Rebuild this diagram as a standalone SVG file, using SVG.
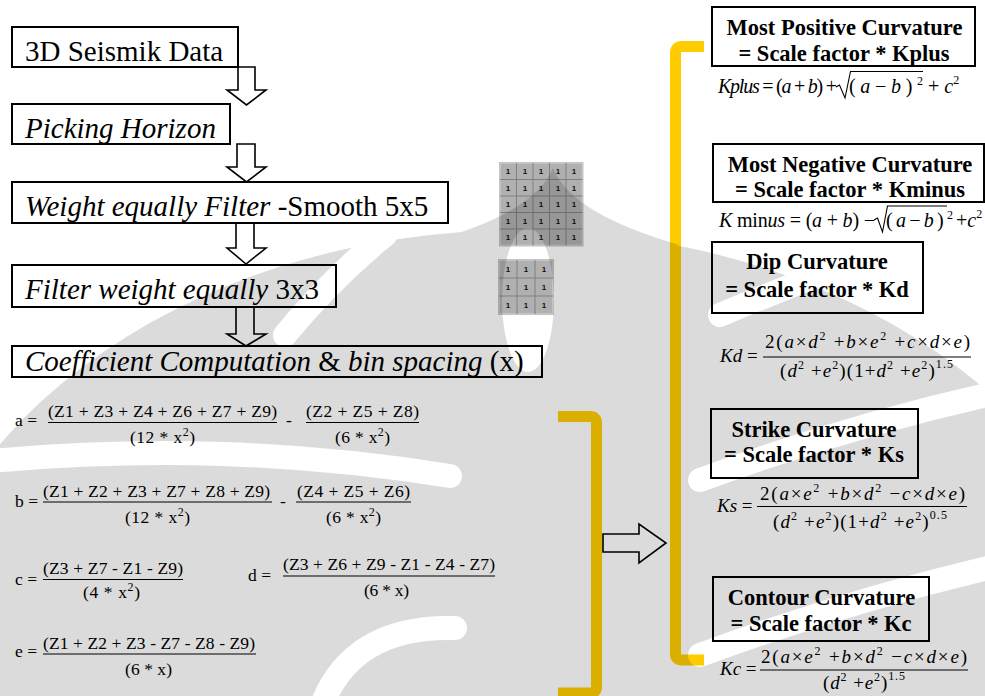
<svg xmlns="http://www.w3.org/2000/svg" width="985" height="696" viewBox="0 0 985 696" font-family="'Liberation Serif', 'Times New Roman', Times, serif">
<style>
.box{fill:#fff;stroke:#000;stroke-width:2}
.t{font-family:'Liberation Serif','Times New Roman',Times,serif;fill:#000}
.lt{font-size:29px}
.i{font-style:italic}
.bt{font-size:22.5px;font-weight:bold;text-anchor:middle}
.eq{font-size:17.5px}
.fm{font-size:19px}
.kf{font-size:20px}
.sup{font-size:12px}
.bar{stroke:#000;stroke-width:1.1;fill:none}
.arr{fill:#fff;stroke:#000;stroke-width:1.6;stroke-linejoin:miter}
.yb{fill:none;stroke:#FFCC00;stroke-width:11;stroke-linejoin:round}
.grid{fill:#b0b0b0;stroke:#c4c4c4;stroke-width:2}
.gl{fill:none;stroke:#808080;stroke-width:1}
.one{font-family:'Liberation Sans',Arial,sans-serif;font-size:8px;font-weight:bold;fill:#111;text-anchor:middle}
</style>
<defs>
<mask id="wmask" maskUnits="userSpaceOnUse" x="0" y="0" width="985" height="696">
<rect x="0" y="0" width="985" height="696" fill="#000"/>
<ellipse cx="520" cy="700" rx="620" ry="470" fill="#fff"/>
<path d="M553,168 C566,200 610,225 680,245 L420,245 C495,225 540,200 553,168 Z" fill="#fff"/>
<g fill="none" stroke="#000" stroke-width="24" stroke-linecap="round">
<ellipse cx="528" cy="300" rx="26" ry="72" fill="#000" stroke="none"/>
<path d="M-20,462 C150,446 300,452 450,476"/>
<path d="M320,710 Q350,625 455,628"/>
<path d="M285,335 Q330,280 385,235"/>
<path d="M700,480 Q850,425 1000,392"/>
<path d="M700,655 Q850,600 1000,565"/>
<path d="M720,315 Q860,255 1000,215"/>
</g>
</mask>
</defs>

<g id="connectors">
<path class="arr" d="M238,67 L255,67 L255,90 L266,90 L246.5,105 L227,90 L238,90 Z"/>
<path class="arr" d="M237,144 L255,144 L255,167 L266,167 L246.5,182 L227,167 L237,167 Z"/>
<path class="arr" d="M236,223 L254,223 L254,248 L266,248 L246,264 L227,248 L236,248 Z"/>
<path class="arr" d="M236,307 L254,307 L254,334 L266,334 L246,346 L227,334 L236,334 Z"/>
<path class="arr" d="M603,534 L639,534 L639,524 L666,543 L639,563 L639,552 L603,552 Z"/>
<path class="yb" d="M704,46.5 L682,46.5 Q675.5,46.5 675.5,53 L675.5,654 Q675.5,660 682,660 L704,660"/>
<path class="yb" d="M558,416.5 L590,416.5 Q596.5,416.5 596.5,423 L596.5,687 Q596.5,693 590,693 L558,693"/>
</g>

<g id="n-seismic">
<rect class="box" x="12" y="27" width="226" height="40"/>
<text class="t lt" x="25" y="61">3D Seismik Data</text>
</g>
<g id="n-picking">
<rect class="box" x="12" y="104" width="218" height="40"/>
<text class="t lt i" x="25" y="138">Picking Horizon</text>
</g>
<g id="n-smooth">
<rect class="box" x="12" y="182" width="436" height="41"/>
<text class="t lt" x="25" y="216"><tspan class="i">Weight equally Filter</tspan> -Smooth 5x5</text>
</g>
<g id="n-filter">
<rect class="box" x="12" y="265" width="324" height="42"/>
<text class="t lt" x="25" y="299"><tspan class="i">Filter weight equally</tspan> 3x3</text>
</g>
<g id="n-coef">
<rect class="box" x="12" y="346" width="530" height="31"/>
<text class="t lt" x="25" y="371"><tspan class="i">Coefficient Computation</tspan> &amp; <tspan class="i">bin spacing</tspan> (x)</text>
</g>

<g id="grid5">
<rect class="grid" x="500" y="163" width="82.5" height="82.5"/>
<path class="gl" d="M516.5,163V245.5M533,163V245.5M549.5,163V245.5M566,163V245.5M500,179.5H582.5M500,196H582.5M500,212.5H582.5M500,229H582.5"/>
<text class="one" x="508 525 541 558 574" y="174">11111</text>
<text class="one" x="508 525 541 558 574" y="191">11111</text>
<text class="one" x="508 525 541 558 574" y="207">11111</text>
<text class="one" x="508 525 541 558 574" y="224">11111</text>
<text class="one" x="508 525 541 558 574" y="240">11111</text>
</g>
<g id="grid3">
<rect class="grid" x="499" y="260" width="54" height="54"/>
<path class="gl" d="M517,260V314M535,260V314M499,278H553M499,296H553"/>
<text class="one" x="508 526 544" y="272">111</text>
<text class="one" x="508 526 544" y="290">111</text>
<text class="one" x="508 526 544" y="308">111</text>
</g>

<g id="eq-a">
<text class="t eq" x="15" y="426">a =</text>
<text class="t eq" x="48" y="417" textLength="229">(Z1 + Z3 + Z4 + Z6 + Z7 + Z9)</text>
<line class="bar" x1="48" y1="422.5" x2="277" y2="422.5"/>
<text class="t eq" x="130" y="443" textLength="65">(12 * x<tspan class="sup" dy="-7">2</tspan><tspan dy="7">)</tspan></text>
<text class="t eq" x="289" y="426" text-anchor="middle">-</text>
<text class="t eq" x="306" y="417" textLength="113">(Z2 + Z5 + Z8)</text>
<line class="bar" x1="306" y1="422.5" x2="419" y2="422.5"/>
<text class="t eq" x="335" y="443" textLength="55">(6 * x<tspan class="sup" dy="-7">2</tspan><tspan dy="7">)</tspan></text>
</g>
<g id="eq-b">
<text class="t eq" x="15" y="507">b =</text>
<text class="t eq" x="43" y="497" textLength="227">(Z1 + Z2 + Z3 + Z7 + Z8 + Z9)</text>
<line class="bar" x1="43" y1="502" x2="272" y2="502"/>
<text class="t eq" x="125" y="523" textLength="65">(12 * x<tspan class="sup" dy="-7">2</tspan><tspan dy="7">)</tspan></text>
<text class="t eq" x="283" y="507" text-anchor="middle">-</text>
<text class="t eq" x="297" y="497" textLength="113">(Z4 + Z5 + Z6)</text>
<line class="bar" x1="296" y1="502" x2="411" y2="502"/>
<text class="t eq" x="326" y="523" textLength="55">(6 * x<tspan class="sup" dy="-7">2</tspan><tspan dy="7">)</tspan></text>
</g>
<g id="eq-c">
<text class="t eq" x="15" y="585">c =</text>
<text class="t eq" x="43" y="573.5" textLength="140">(Z3 + Z7 - Z1 - Z9)</text>
<line class="bar" x1="43" y1="579.5" x2="183" y2="579.5"/>
<text class="t eq" x="83" y="597.5" textLength="57">(4 * x<tspan class="sup" dy="-7">2</tspan><tspan dy="7">)</tspan></text>
</g>
<g id="eq-d">
<text class="t eq" x="248" y="581">d =</text>
<text class="t eq" x="283" y="570" textLength="212">(Z3 + Z6 + Z9 - Z1 - Z4 - Z7)</text>
<line class="bar" x1="283" y1="576" x2="495" y2="576"/>
<text class="t eq" x="364" y="596" textLength="45">(6 * x)</text>
</g>
<g id="eq-e">
<text class="t eq" x="15" y="657">e =</text>
<text class="t eq" x="43" y="648.5" textLength="212">(Z1 + Z2 + Z3 - Z7 - Z8 - Z9)</text>
<line class="bar" x1="43" y1="654" x2="256" y2="654"/>
<text class="t eq" x="125" y="675" textLength="47">(6 * x)</text>
</g>

<g id="n-kplus">
<rect class="box" x="712" y="7" width="263" height="59"/>
<text class="t bt" x="844.5" y="35">Most Positive Curvature</text>
<text class="t bt" x="844" y="61">= Scale factor * Kplus</text>
<text class="t kf" x="718" y="93" textLength="119"><tspan class="i">Kplus</tspan> = (<tspan class="i">a</tspan> + <tspan class="i">b</tspan>) +</text>
<path class="bar" d="M836,87 L839.5,85 L845,98 L850.5,71.5 L923,71.5"/>
<text class="t kf" x="849" y="93" textLength="74">(<tspan class="i">a</tspan>−<tspan class="i">b</tspan>)<tspan class="sup" dy="-8">2</tspan></text>
<text class="t kf" x="928" y="93">+ <tspan class="i">c</tspan><tspan class="sup" dy="-9">2</tspan></text>
</g>

<g id="n-kminus">
<rect class="box" x="713" y="144" width="271" height="58"/>
<text class="t bt" x="850" y="171.5">Most Negative Curvature</text>
<text class="t bt" x="850" y="196.5">= Scale factor * Kminus</text>
<text class="t kf" x="719" y="226.5" textLength="156"><tspan class="i">K</tspan> min<tspan class="i">us</tspan> = (<tspan class="i">a</tspan> + <tspan class="i">b</tspan>) −</text>
<path class="bar" d="M874,220 L877.5,218 L882.5,232 L887.5,206 L947,206"/>
<text class="t kf" x="886" y="226.5" textLength="67">(<tspan class="i">a</tspan>−<tspan class="i">b</tspan>)<tspan class="sup" dy="-8">2</tspan></text>
<text class="t kf" x="956" y="226.5">+<tspan class="i">c</tspan><tspan class="sup" dy="-9">2</tspan></text>
</g>

<g id="n-kd">
<rect class="box" x="712" y="242" width="211" height="71"/>
<text class="t bt" x="817" y="269">Dip Curvature</text>
<text class="t bt" x="817" y="296.5">= Scale factor * Kd</text>
<text class="t fm" x="720" y="362"><tspan class="i">Kd</tspan> =</text>
<text class="t fm" x="765" y="348" textLength="205">2(<tspan class="i">a</tspan>×<tspan class="i">d</tspan><tspan class="sup" dy="-8">2</tspan><tspan dy="8"> +</tspan><tspan class="i">b</tspan>×<tspan class="i">e</tspan><tspan class="sup" dy="-8">2</tspan><tspan dy="8"> +</tspan><tspan class="i">c</tspan>×<tspan class="i">d</tspan>×<tspan class="i">e</tspan>)</text>
<line class="bar" x1="763" y1="357" x2="971" y2="357"/>
<text class="t fm" x="780" y="377" textLength="173">(<tspan class="i">d</tspan><tspan class="sup" dy="-8">2</tspan><tspan dy="8"> +</tspan><tspan class="i">e</tspan><tspan class="sup" dy="-8">2</tspan><tspan dy="8">)(1+</tspan><tspan class="i">d</tspan><tspan class="sup" dy="-8">2</tspan><tspan dy="8"> +</tspan><tspan class="i">e</tspan><tspan class="sup" dy="-8">2</tspan><tspan dy="8">)</tspan><tspan class="sup" dy="-9">1.5</tspan></text>
</g>

<g id="n-ks">
<rect class="box" x="711" y="409" width="207" height="69"/>
<text class="t bt" x="814" y="436.5">Strike Curvature</text>
<text class="t bt" x="814" y="461.5">= Scale factor * Ks</text>
<text class="t fm" x="717" y="511.5"><tspan class="i">Ks</tspan> =</text>
<text class="t fm" x="760" y="500" textLength="205">2(<tspan class="i">a</tspan>×<tspan class="i">e</tspan><tspan class="sup" dy="-8">2</tspan><tspan dy="8"> +</tspan><tspan class="i">b</tspan>×<tspan class="i">d</tspan><tspan class="sup" dy="-8">2</tspan><tspan dy="8"> −</tspan><tspan class="i">c</tspan>×<tspan class="i">d</tspan>×<tspan class="i">e</tspan>)</text>
<line class="bar" x1="757" y1="506.5" x2="967" y2="506.5"/>
<text class="t fm" x="773" y="528" textLength="174">(<tspan class="i">d</tspan><tspan class="sup" dy="-8">2</tspan><tspan dy="8"> +</tspan><tspan class="i">e</tspan><tspan class="sup" dy="-8">2</tspan><tspan dy="8">)(1+</tspan><tspan class="i">d</tspan><tspan class="sup" dy="-8">2</tspan><tspan dy="8"> +</tspan><tspan class="i">e</tspan><tspan class="sup" dy="-8">2</tspan><tspan dy="8">)</tspan><tspan class="sup" dy="-9">0.5</tspan></text>
</g>

<g id="n-kc">
<rect class="box" x="713" y="577" width="216" height="64"/>
<text class="t bt" x="821.5" y="605">Contour Curvature</text>
<text class="t bt" x="821" y="630.5">= Scale factor * Kc</text>
<text class="t fm" x="720" y="675"><tspan class="i">Kc</tspan> =</text>
<text class="t fm" x="761" y="663" textLength="206">2(<tspan class="i">a</tspan>×<tspan class="i">e</tspan><tspan class="sup" dy="-8">2</tspan><tspan dy="8"> +</tspan><tspan class="i">b</tspan>×<tspan class="i">d</tspan><tspan class="sup" dy="-8">2</tspan><tspan dy="8"> −</tspan><tspan class="i">c</tspan>×<tspan class="i">d</tspan>×<tspan class="i">e</tspan>)</text>
<line class="bar" x1="760" y1="670" x2="968" y2="670"/>
<text class="t fm" x="823" y="689" textLength="82">(<tspan class="i">d</tspan><tspan class="sup" dy="-8">2</tspan><tspan dy="8"> +</tspan><tspan class="i">e</tspan><tspan class="sup" dy="-8">2</tspan><tspan dy="8">)</tspan><tspan class="sup" dy="-9">1.5</tspan></text>
</g>

<rect id="watermark" x="0" y="0" width="985" height="696" fill="#000" fill-opacity="0.14" mask="url(#wmask)"/>
</svg>
